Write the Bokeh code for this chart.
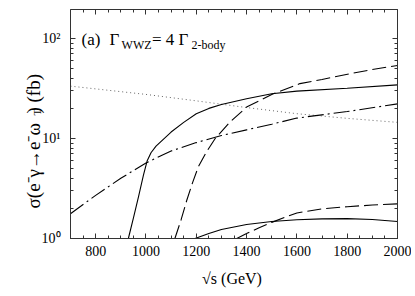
from bokeh.plotting import figure
from bokeh.models import (Range1d, LinearAxis, LogAxis, SingleIntervalTicker, LogTicker,
                          Label, CustomJSTickFormatter)
from bokeh.embed import file_html
from bokeh.resources import INLINE
import math

# ---- data ----
s_dot = [700, 1000, 1200, 1400, 1600, 1800, 2000]
sig_dot = [33.4, 27.6, 23.8, 20.4, 17.7, 15.9, 14.5]

s_sol1 = [930, 950, 970, 990, 1005, 1020, 1040, 1100, 1150, 1200, 1250, 1300, 1400, 1500, 1600, 1800, 2000]
sig_sol1 = [1.0, 1.6, 2.6, 4.3, 6.0, 7.2, 8.4, 11.6, 14.5, 17.7, 20.0, 21.9, 25.0, 28.0, 29.8, 31.8, 34.4]

s_dash1 = [1115, 1140, 1162, 1185, 1208, 1240, 1274, 1334, 1400, 1506, 1612, 1700, 1810, 1900, 2000]
sig_dash1 = [1.0, 1.55, 2.4, 3.6, 5.2, 7.3, 9.9, 14.6, 20.6, 28.0, 35.4, 38.9, 44.4, 49.0, 53.7]

s_dd = [700, 800, 900, 1000, 1100, 1200, 1300, 1400, 1500, 1600, 1800, 2000]
sig_dd = [1.77, 2.7, 4.0, 5.7, 7.5, 9.1, 10.7, 12.2, 13.9, 16.0, 18.6, 22.2]

s_sol2 = [1195, 1250, 1300, 1400, 1500, 1600, 1700, 1800, 1900, 2000]
sig_sol2 = [1.0, 1.12, 1.23, 1.38, 1.48, 1.54, 1.57, 1.58, 1.55, 1.48]

s_dash2 = [1361, 1400, 1450, 1500, 1550, 1600, 1700, 1800, 1900, 2000]
sig_dash2 = [1.0, 1.12, 1.28, 1.45, 1.62, 1.80, 1.98, 2.08, 2.16, 2.22]

y_tick_labels = {1: "10\u2070", 10: "10\u00b9", 100: "10\u00b2"}

FONT = "Liberation Serif"

p = figure(frame_width=327, frame_height=229, x_axis_type="linear", y_axis_type="log",
           x_range=Range1d(700, 2000), y_range=Range1d(1, 195),
           output_backend="svg", toolbar_location=None,
           min_border_left=70, min_border_top=9, min_border_right=14, min_border_bottom=2)
p.grid.visible = False
p.outline_line_color = None
p.background_fill_color = "white"
p.border_fill_color = "white"

xt = SingleIntervalTicker(interval=200, num_minor_ticks=4)
yt = LogTicker(num_minor_ticks=10)

def style(ax):
    ax.axis_line_color = "#333333"
    ax.major_tick_line_color = "#333333"
    ax.minor_tick_line_color = "#333333"
    ax.major_tick_in = 5
    ax.major_tick_out = 0
    ax.minor_tick_in = 3
    ax.minor_tick_out = 0
    ax.major_label_text_font = FONT
    ax.major_label_text_font_size = "14px"
    ax.major_label_text_color = "black"
    ax.axis_label_text_font = FONT
    ax.axis_label_text_font_style = "normal"
    ax.axis_label_text_color = "black"

xa = p.xaxis[0]
xa.ticker = xt
style(xa)
xa.major_label_standoff = 7
xa.axis_label = "\u221as  (GeV)"
xa.axis_label_text_font_size = "16px"
xa.axis_label_standoff = 11

ya = p.yaxis[0]
ya.ticker = yt
style(ya)
ya.major_label_overrides = y_tick_labels
ya.major_label_standoff = 10

blank = CustomJSTickFormatter(code="return ''")
top = LinearAxis(ticker=xt, formatter=blank)
style(top)
top.major_label_text_font_size = "0px"
top.major_label_standoff = 0
p.add_layout(top, "above")

right = LogAxis(ticker=yt, formatter=blank)
style(right)
right.major_label_text_font_size = "0px"
right.major_label_standoff = 0
p.add_layout(right, "right")

# ---- curves ----
p.line(s_dot, sig_dot, line_color="#666666", line_width=1, line_dash="1 3")
p.line(s_sol1, sig_sol1, line_color="black", line_width=1.1)
p.line(s_dash1, sig_dash1, line_color="black", line_width=1.1, line_dash="14 5")
p.line(s_dd, sig_dd, line_color="black", line_width=1.1, line_dash="16 4 2 4")
p.line(s_sol2, sig_sol2, line_color="black", line_width=1.1)
p.line(s_dash2, sig_dash2, line_color="black", line_width=1.1, line_dash="14 5")

# ---- annotation "(a) Γ_WWZ = 4 Γ_2-body" ----
def mk(x, y, t, size, angle=0.0):
    return Label(x=x, y=y, text=t, text_font=FONT, text_font_size=size,
                 text_color="black", text_baseline="alphabetic", text_align="left",
                 angle=angle)

for lbl in [mk(744, 98, "(a)", "17px"),
            mk(855, 98, "\u0393", "17px"),
            mk(903, 87, "WWZ", "12px"),
            mk(1024, 98, "= 4 \u0393", "17px"),
            mk(1181, 87, "2-body", "12px")]:
    p.add_layout(lbl)

# ---- y axis label (rotated; the subscript T sits in the en-space gap) ----
A = math.pi / 2
p.add_layout(mk(553, 2.0, "\u03c3(e\u207b\u03b3\u2192e\u207b\u03c9\u2002)   (fb)", "19px", A), "left")
p.add_layout(mk(567, 17.0, "T", "11px", A), "right")

open("out.html", "w").write(file_html(p, INLINE))
